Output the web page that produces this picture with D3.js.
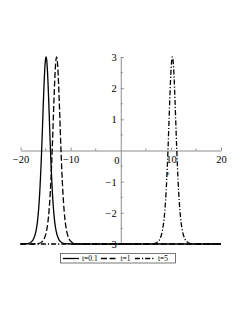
<!DOCTYPE html>
<html><head><meta charset="utf-8">
<script src="https://cdn.jsdelivr.net/npm/d3@7"></script>
<style>html,body{margin:0;padding:0;background:#fff;}svg{display:block;}</style>
</head><body>
<script>
// ---- data ----
const seriesNames = ["t=0.1", "t=1", "t=5"];
const xSolid = [-20, -19.9, -18.9, -18.4, -17.9, -17.4, -16.9, -16.65, -16.4, -16.15, -15.9, -15.775, -15.65, -15.525, -15.4, -15.275, -15.15, -15.025, -14.9, -14.775, -14.65, -14.525, -14.4, -14.275, -14.15, -14.025, -13.9, -13.65, -13.4, -13.15, -12.9, -12.4, -11.9, -11.4, -10.9, -9.9, 20];
const ySolid = [-3, -3, -2.99, -2.98, -2.94, -2.84, -2.58, -2.32, -1.92, -1.32, -0.48, 0.03, 0.58, 1.16, 1.72, 2.23, 2.64, 2.91, 3, 2.91, 2.64, 2.23, 1.72, 1.16, 0.58, 0.03, -0.48, -1.32, -1.92, -2.32, -2.58, -2.84, -2.94, -2.98, -2.99, -3, -3];
const xDash = [-20, -17.8, -16.8, -16.3, -15.8, -15.3, -14.8, -14.55, -14.3, -14.05, -13.8, -13.675, -13.55, -13.425, -13.3, -13.175, -13.05, -12.925, -12.8, -12.675, -12.55, -12.425, -12.3, -12.175, -12.05, -11.925, -11.8, -11.55, -11.3, -11.05, -10.8, -10.3, -9.8, -9.3, -8.8, -7.8, 20];
const yDash = [-3, -3, -2.99, -2.98, -2.94, -2.84, -2.58, -2.32, -1.92, -1.32, -0.48, 0.03, 0.58, 1.16, 1.72, 2.23, 2.64, 2.91, 3, 2.91, 2.64, 2.23, 1.72, 1.16, 0.58, 0.03, -0.48, -1.32, -1.92, -2.32, -2.58, -2.84, -2.94, -2.98, -2.99, -3, -3];
const xDashDot = [-20, 5.3, 6.3, 6.8, 7.3, 7.8, 8.3, 8.55, 8.8, 9.05, 9.3, 9.425, 9.55, 9.675, 9.8, 9.925, 10.05, 10.175, 10.3, 10.425, 10.55, 10.675, 10.8, 10.925, 11.05, 11.175, 11.3, 11.55, 11.8, 12.05, 12.3, 12.8, 13.3, 13.8, 14.3, 15.3, 20];
const yDashDot = [-3, -3, -2.99, -2.98, -2.94, -2.84, -2.58, -2.32, -1.92, -1.32, -0.48, 0.03, 0.58, 1.16, 1.72, 2.23, 2.64, 2.91, 3, 2.91, 2.64, 2.23, 1.72, 1.16, 0.58, 0.03, -0.48, -1.32, -1.92, -2.32, -2.58, -2.84, -2.94, -2.98, -2.99, -3, -3];
const xTickValues = [-20, -10, 10, 20];
const yTickValues = [-3, -2, -1, 1, 2, 3];
const xMinorTicks = [-15, -5, 5, 15];
const yMinorTicks = [-2.5, -1.5, -0.5, 0.5, 1.5, 2.5];

// ---- layout ----
const W = 245, H = 317;
const svg = d3.select("body").append("svg").attr("width", W).attr("height", H)
  .style("font-family", "'Liberation Serif', 'Times New Roman', serif");
svg.append("rect").attr("width", W).attr("height", H).attr("fill", "#fff");

const x = d3.scaleLinear().domain([-20, 20]).range([20.5, 221]);
const y = d3.scaleLinear().domain([-3, 3]).range([244, 57]);
const axisColor = "#8c8c8c";
const fmt = d => (d < 0 ? "\u2212" + Math.abs(d) : String(d));

// x axis
const gx = svg.append("g").attr("transform", `translate(0,${y(0)})`)
  .call(d3.axisBottom(x).tickValues(xTickValues).tickSize(3).tickSizeOuter(0).tickFormat(fmt));
gx.select(".domain").attr("stroke", axisColor);
gx.selectAll(".tick line").attr("stroke", axisColor).attr("y1", -3).attr("y2", 0);
gx.selectAll(".tick text").attr("fill", "#000").attr("font-size", 10.5).attr("y", 5)
  .attr("font-family", "'Liberation Serif', serif");
gx.selectAll(".minor").data(xMinorTicks).enter().append("line")
  .attr("x1", d => x(d)).attr("x2", d => x(d)).attr("y1", -2).attr("y2", 0)
  .attr("stroke", axisColor);

// y axis
const gy = svg.append("g").attr("transform", `translate(${x(0)},0)`)
  .call(d3.axisLeft(y).tickValues(yTickValues).tickSize(3).tickSizeOuter(0).tickFormat(fmt));
gy.select(".domain").attr("stroke", axisColor);
gy.selectAll(".tick line").attr("stroke", axisColor).attr("x1", 0).attr("x2", 3);
gy.selectAll(".tick text").attr("fill", "#000").attr("font-size", 10.5).attr("x", -4)
  .attr("font-family", "'Liberation Serif', serif");
gy.selectAll(".minor").data(yMinorTicks).enter().append("line")
  .attr("y1", d => y(d)).attr("y2", d => y(d)).attr("x1", 0).attr("x2", 2)
  .attr("stroke", axisColor);

// origin label and axis name
svg.append("text").attr("x", x(0) - 4).attr("y", y(0) + 13).attr("text-anchor", "middle")
  .attr("font-size", 10.5).text("0");
svg.append("text").attr("x", x(9.4)).attr("y", y(0) + 24).attr("text-anchor", "middle")
  .attr("font-size", 6).attr("font-style", "italic").text("x");

// curves
const series = [
  { name: seriesNames[0], xs: xSolid, ys: ySolid, dash: null },
  { name: seriesNames[1], xs: xDash, ys: yDash, dash: "6,2.5" },
  { name: seriesNames[2], xs: xDashDot, ys: yDashDot, dash: "5,2,1.2,2" }
];
const line = d3.line().x(d => x(d[0])).y(d => y(d[1])).curve(d3.curveMonotoneX);
series.forEach(s => {
  svg.append("path").datum(s.xs.map((v, i) => [v, s.ys[i]]))
    .attr("d", line).attr("fill", "none").attr("stroke", "#000")
    .attr("stroke-width", 1.3).attr("stroke-dasharray", s.dash);
});

// legend
const lg = svg.append("g");
lg.append("rect").attr("x", 60.5).attr("y", 253.5).attr("width", 115).attr("height", 9.5)
  .attr("fill", "#fff").attr("stroke", "#555").attr("stroke-width", 0.8);
const legendX = [[63, 79, 82], [101, 118, 120.5], [135, 155, 158]];
series.forEach((s, i) => {
  const [a, b, t] = legendX[i];
  lg.append("line").attr("x1", a).attr("x2", b).attr("y1", 258.5).attr("y2", 258.5)
    .attr("stroke", "#000").attr("stroke-width", 1.3).attr("stroke-dasharray", s.dash);
  lg.append("text").attr("x", t).attr("y", 261).attr("font-size", 7.5).text(s.name);
});
</script>
</body></html>
